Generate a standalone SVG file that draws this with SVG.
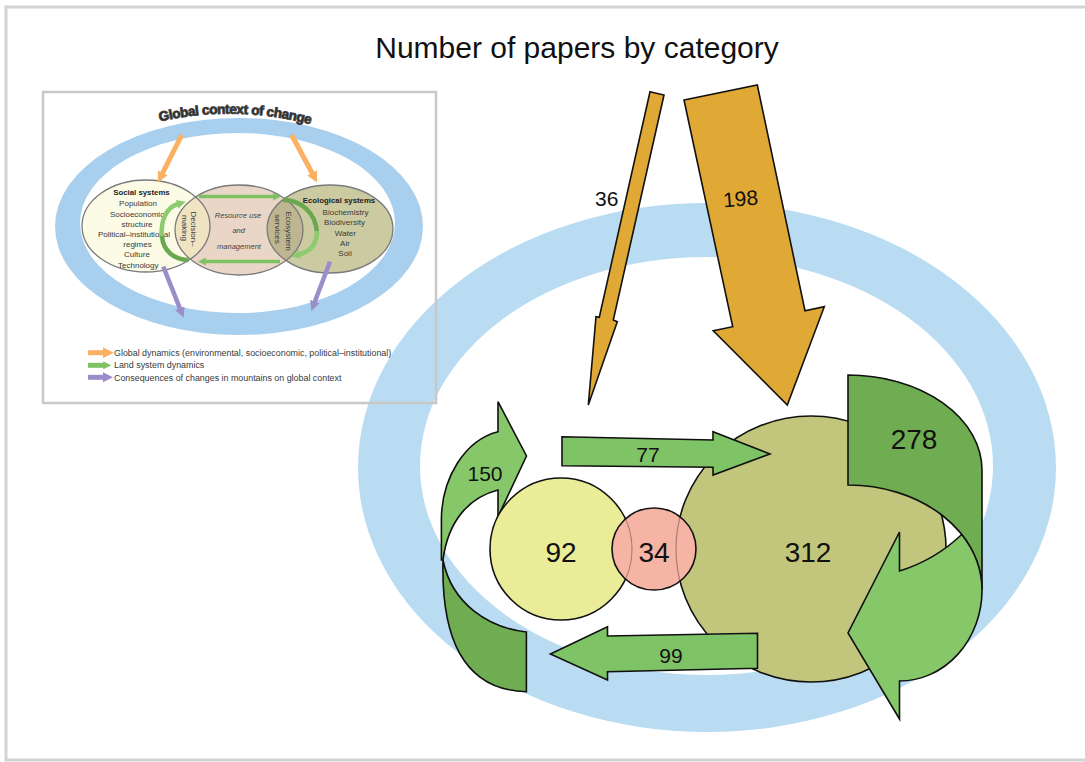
<svg xmlns="http://www.w3.org/2000/svg" width="1085" height="762" viewBox="0 0 1085 762">
<style>
text { font-family: "Liberation Sans", Arial, sans-serif; }
.num { font-size: 28px; fill: #111; text-anchor: middle; }
.lab { font-size: 21px; fill: #111; text-anchor: middle; }
.ol { stroke: #111; stroke-width: 1.6; stroke-linejoin: miter; }
.in { font-size: 8px; fill: #3a3a3a; text-anchor: middle; }
.inb { font-size: 7.8px; font-weight: bold; fill: #222; text-anchor: middle; }
.ini { font-size: 7.5px; font-style: italic; fill: #444; text-anchor: middle; }
.ell { stroke: #7a7a7a; stroke-width: 1.3; fill: none; }
.leg { font-size: 8.9px; fill: #3a3a3a; }
.orange { fill: #e0a834; }
.lg { fill: #86c869; }
.dg { fill: #70ac52; }
.ga { fill: #7fc367; }
</style>
<defs>
<marker id="hOr" viewBox="0 0 10 10" refX="1" refY="5" markerWidth="11" markerHeight="11" markerUnits="userSpaceOnUse" orient="auto"><path d="M0,0L10,5L0,10z" fill="#fbb162"/></marker>
<marker id="hGr" viewBox="0 0 10 10" refX="1" refY="5" markerWidth="8" markerHeight="8" markerUnits="userSpaceOnUse" orient="auto"><path d="M0,0L10,5L0,10z" fill="#7dc263"/></marker>
<marker id="hGrL" viewBox="0 0 10 10" refX="1" refY="5" markerWidth="9" markerHeight="9" markerUnits="userSpaceOnUse" orient="auto"><path d="M0,0L10,5L0,10z" fill="#8dca70"/></marker>
<marker id="hPu" viewBox="0 0 10 10" refX="1" refY="5" markerWidth="10" markerHeight="10" markerUnits="userSpaceOnUse" orient="auto"><path d="M0,0L10,5L0,10z" fill="#9b8dc9"/></marker>
<clipPath id="cRes"><ellipse cx="239" cy="230" rx="64" ry="45"/></clipPath>
<clipPath id="cPink"><ellipse cx="654" cy="549" rx="42" ry="41"/></clipPath>
</defs>

<!-- outer frame -->
<rect x="6" y="7" width="1100" height="753" fill="#fff" stroke="#d3d3d3" stroke-width="3"/>

<!-- big ring -->
<path id="bigRing" fill="#b9dcf3" fill-rule="evenodd" d="M358,467.5a349,264.5 0 1,0 698,0a349,264.5 0 1,0 -698,0z M420,466a286.5,209 0 1,0 573,0a286.5,209 0 1,0 -573,0z"/>

<!-- inset figure -->
<g id="inset">
<path fill="#a8cfee" fill-rule="evenodd" d="M55,226.5a184,108.5 0 1,0 368,0a184,108.5 0 1,0 -368,0z M80,223a157.5,90 0 1,0 315,0a157.5,90 0 1,0 -315,0z"/>
<path id="gcPath" d="M150,124 Q234,102 320,127" fill="none"/>
<text font-size="13.5" font-weight="bold" fill="#222" stroke="#444" stroke-width="0.9" letter-spacing="-0.4"><textPath href="#gcPath" startOffset="50%" text-anchor="middle">Global context of change</textPath></text>

<ellipse cx="146" cy="226" rx="64" ry="46" fill="#fbfbe6"/>
<ellipse cx="239" cy="230" rx="64" ry="45" fill="#ead6c6"/>
<ellipse cx="330" cy="229" rx="63" ry="44" fill="#cbcaa1"/>
<ellipse cx="146" cy="226" rx="64" ry="46" fill="#efe3c2" clip-path="url(#cRes)"/>
<ellipse cx="330" cy="229" rx="63" ry="44" fill="#bdb690" clip-path="url(#cRes)"/>
<ellipse class="ell" cx="146" cy="226" rx="64" ry="46"/>
<ellipse class="ell" cx="239" cy="230" rx="64" ry="45"/>
<ellipse class="ell" cx="330" cy="229" rx="63" ry="44"/>

<text class="inb" x="141.5" y="194.5">Social systems</text>
<text class="in" x="138" y="206">Population</text>
<text class="in" x="137" y="216.5">Socioeconomic</text>
<text class="in" x="137" y="227">structure</text>
<text class="in" x="134" y="237">Political–institutional</text>
<text class="in" x="137.5" y="247">regimes</text>
<text class="in" x="137" y="257">Culture</text>
<text class="in" x="138.3" y="267.5">Technology</text>

<text class="inb" x="339" y="202.5">Ecological systems</text>
<text class="in" x="345.5" y="214.5">Biochemistry</text>
<text class="in" x="344.5" y="225">Biodiversity</text>
<text class="in" x="345.3" y="235.5">Water</text>
<text class="in" x="345" y="246">Air</text>
<text class="in" x="345" y="256">Soil</text>

<text class="ini" x="238" y="218">Resource use</text>
<text class="ini" x="238.7" y="233">and</text>
<text class="ini" x="239" y="248.5">management</text>

<text class="in" transform="translate(191,229) rotate(90)"><tspan x="0" y="0">Decision–</tspan><tspan x="-1" y="9.5">making</tspan></text>
<text class="in" transform="translate(285.5,231) rotate(90)"><tspan x="0" y="0">Ecosystem</tspan><tspan x="-2" y="10.5">services</tspan></text>

<!-- inset arrows -->
<line x1="199" y1="196.5" x2="274" y2="196.5" stroke="#7dc263" stroke-width="3.5" marker-end="url(#hGr)"/>
<line x1="280" y1="261.5" x2="205" y2="261.5" stroke="#7dc263" stroke-width="3.5" marker-end="url(#hGr)"/>
<path d="M162,238 C160,220 167,207 178,204" fill="none" stroke="#8dca70" stroke-width="4.5" marker-end="url(#hGrL)"/>
<path d="M162,236 C163,251 174,259.5 188.5,260" fill="none" stroke="#6aa84f" stroke-width="4.5"/>
<path d="M283,200 C300,200 316,212 317,233" fill="none" stroke="#6aa84f" stroke-width="4.5"/>
<path d="M317,231 C317,245 309,252 299,254.5" fill="none" stroke="#8dca70" stroke-width="4.5" marker-end="url(#hGrL)"/>
<line x1="181.7" y1="135" x2="162.3" y2="173.7" stroke="#fbb162" stroke-width="5" marker-end="url(#hOr)"/>
<line x1="291.7" y1="135" x2="312.5" y2="173.8" stroke="#fbb162" stroke-width="5" marker-end="url(#hOr)"/>
<line x1="163.3" y1="266.7" x2="180.3" y2="309.3" stroke="#9b8dc9" stroke-width="4.5" marker-end="url(#hPu)"/>
<line x1="330" y1="261.7" x2="314.5" y2="302.5" stroke="#9b8dc9" stroke-width="4.5" marker-end="url(#hPu)"/>

<!-- legend -->
<line x1="88" y1="352.7" x2="104" y2="352.7" stroke="#fbb162" stroke-width="5" marker-end="url(#hOr)"/>
<line x1="88" y1="365.3" x2="104" y2="365.3" stroke="#7dc263" stroke-width="5" marker-end="url(#hGr)"/>
<line x1="88" y1="377.3" x2="104" y2="377.3" stroke="#9b8dc9" stroke-width="5" marker-end="url(#hPu)"/>
<text class="leg" x="114" y="355.8">Global dynamics (environmental, socioeconomic, political–institutional)</text>
<text class="leg" x="114" y="368.3">Land system dynamics</text>
<text class="leg" x="114" y="380.8">Consequences of changes in mountains on global context</text>

<rect x="43" y="92" width="393" height="311" fill="none" stroke="#c8c8c8" stroke-width="2.5"/>
</g>

<!-- title -->
<text x="577" y="58" font-size="30" fill="#111" text-anchor="middle">Number of papers by category</text>

<!-- connectors -->
<g id="connectors">
<g id="arrow36">
<path class="orange ol" d="M650,91.7 L664,95 L613.3,320 L617.3,321.7 L588.3,405 L596,316.7 L599.3,317.3 Z"/>
<text class="lab" x="606.7" y="206">36</text>
</g>
<g id="arrow198">
<path class="orange ol" d="M684,100 L757.3,85 L805,310.7 L824.3,306.7 L787.3,405 L713.3,330.7 L732.7,326.7 Z"/>
<text class="lab" x="740.5" y="206" transform="rotate(-5 740.5 198)">198</text>
</g>
<g id="arrow150">
<path class="dg ol" d="M443,560 C441,640 465,690 526.4,691.7 L526.4,632 C490,628 452,605 443,560 Z"/>
<path class="lg ol" d="M443,560 L441.4,560 L441.4,520 C441.4,478 465,440 498,431.7 L498,401.7 L526.5,456 L498,516.7 L498,490 C470,497 448,520 443,560 Z"/>
<text class="lab" x="485" y="480.5">150</text>
</g>
</g>

<g id="node92">
<circle cx="561" cy="549" r="71" fill="#eaec98" stroke="#111" stroke-width="1.6"/>
<text class="num" x="561" y="561.5">92</text>
</g>

<g id="node312">
<ellipse cx="811" cy="549" rx="135" ry="133" fill="#c1c67c" stroke="#111" stroke-width="1.6"/>
<text class="num" x="808" y="561.5">312</text>
</g>

<g id="node34">
<ellipse cx="654" cy="549" rx="42" ry="41" fill="#f5b4a4" stroke="#111" stroke-width="1.6"/>
<g clip-path="url(#cPink)" fill="none" stroke="#000" stroke-opacity="0.3" stroke-width="1.2">
<circle cx="561" cy="549" r="71"/>
<ellipse cx="811" cy="549" rx="135" ry="133"/>
</g>
<text class="num" x="654" y="561.5">34</text>
</g>

<g id="connectors2">
<g id="arrow77">
<path class="ga ol" d="M562,436.7 L713,440 L713,431.7 L770,454 L713,475 L713,467.3 L562,465.7 Z"/>
<text class="lab" x="648" y="461.5">77</text>
</g>
<g id="arrow99">
<path class="ga ol" d="M757.5,633.3 L757.5,668.3 L607.5,671.7 L607.5,680 L550.4,654 L607.5,626.7 L607.5,636 Z"/>
<text class="lab" x="671" y="662.5">99</text>
</g>
<g id="arrow278">
<path class="dg ol" d="M848,375 A134,95 0 0 1 982,470 L982,590 A134,105 0 0 0 848,485 Z"/>
<path class="lg ol" d="M961.7,534.5 A134,105 0 0 1 982,590 A82.5,91 0 0 1 899.5,681 L899.5,719 L848,633 L899.5,532 L899.5,571 Q935,560 961.7,534.5 Z"/>
<text class="num" x="914" y="449">278</text>
</g>
</g>
</svg>
